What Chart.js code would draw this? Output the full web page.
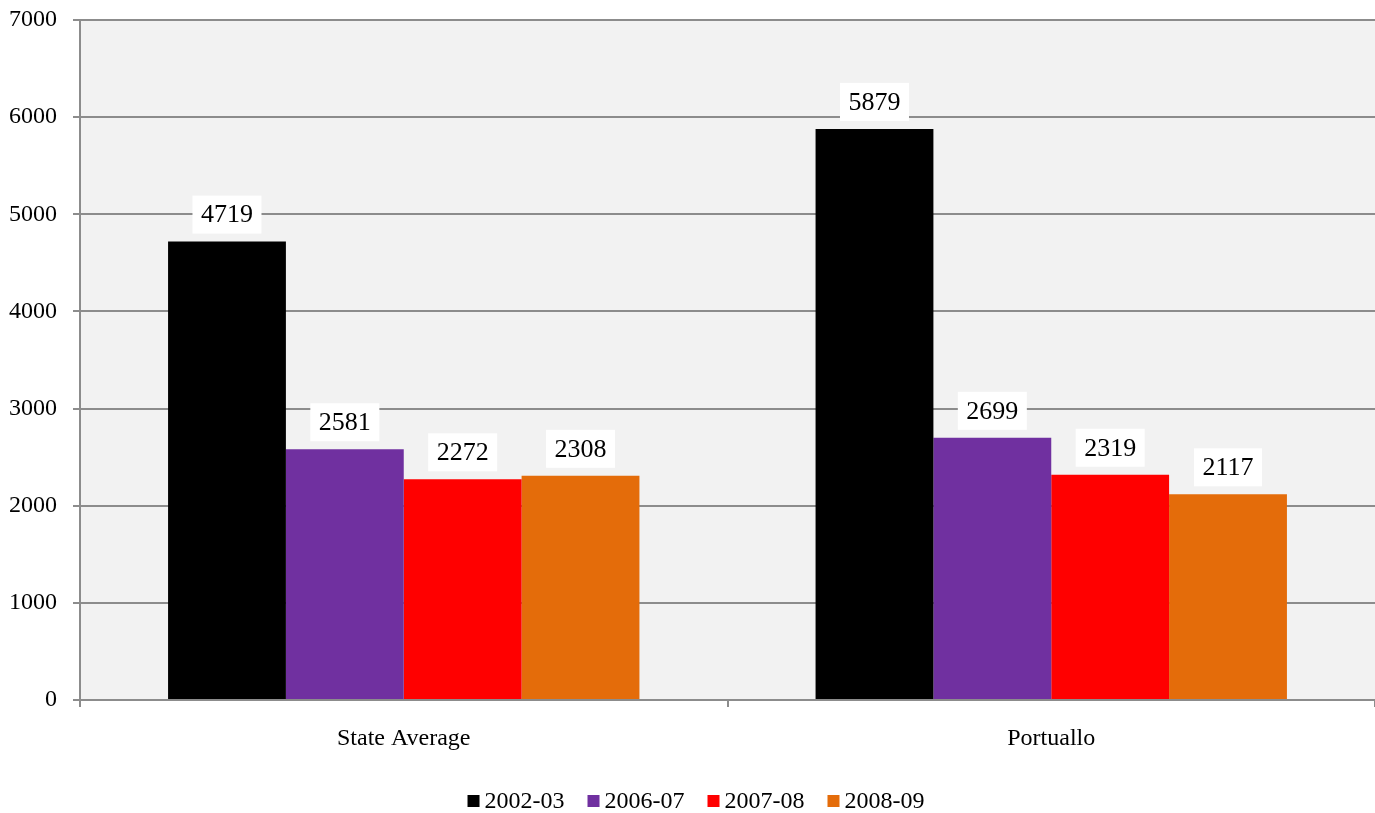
<!DOCTYPE html>
<html>
<head>
<meta charset="utf-8">
<script src="https://cdn.jsdelivr.net/npm/chart.js@4"></script>
<style>
  html, body { margin: 0; padding: 0; background: #ffffff; }
  #wrap { width: 1375px; height: 813px; }
</style>
</head>
<body>
<div id="wrap"><canvas id="c" width="1375" height="813"></canvas></div>
<script>
const categories = ['State Average', 'Portuallo'];
const seriesNames = ['2002-03', '2006-07', '2007-08', '2008-09'];
const seriesColors = ['#000000', '#7030A0', '#FF0000', '#E46C0A'];
const values2002 = [4719, 5879];
const values2006 = [2581, 2699];
const values2007 = [2272, 2319];
const values2008 = [2308, 2117];
const yTicks = [0, 1000, 2000, 3000, 4000, 5000, 6000, 7000];

const seriesValues = [values2002, values2006, values2007, values2008];
const FONT = '"Liberation Serif", "Times New Roman", serif';
const GRID = '#8c8c8c';

// grey plot background
const plotBg = {
  id: 'plotBg',
  beforeDraw(chart) {
    const { ctx, chartArea: a } = chart;
    ctx.save();
    ctx.fillStyle = '#F2F2F2';
    ctx.fillRect(a.left, a.top, a.right - a.left, a.bottom - a.top);
    ctx.restore();
  }
};

// value labels in white boxes above each bar
const valueBoxes = {
  id: 'valueBoxes',
  afterDatasetsDraw(chart) {
    const { ctx } = chart;
    ctx.save();
    ctx.font = '26px ' + FONT;
    ctx.textAlign = 'center';
    ctx.textBaseline = 'middle';
    chart.data.datasets.forEach((ds, di) => {
      chart.getDatasetMeta(di).data.forEach((bar, i) => {
        const txt = String(ds.data[i]);
        const w = ctx.measureText(txt).width + 17;
        const h = 38;
        const cy = bar.y - 27;
        ctx.fillStyle = '#ffffff';
        ctx.fillRect(bar.x - w / 2, cy - h / 2, w, h);
        ctx.fillStyle = '#000000';
        ctx.fillText(txt, bar.x, cy + 1);
      });
    });
    ctx.restore();
  }
};

// series key along the bottom edge
const bottomKey = {
  id: 'bottomKey',
  afterDraw(chart) {
    const { ctx } = chart;
    const box = 12, gapIn = 5, gapOut = 23, midX = 696, midY = 801;
    ctx.save();
    ctx.font = '24px ' + FONT;
    ctx.textBaseline = 'middle';
    ctx.textAlign = 'left';
    const widths = seriesNames.map(n => ctx.measureText(n).width);
    const total = widths.reduce((s, w) => s + box + gapIn + w, 0) + gapOut * (seriesNames.length - 1);
    let x = midX - total / 2;
    seriesNames.forEach((n, k) => {
      ctx.fillStyle = seriesColors[k];
      ctx.fillRect(x, midY - box / 2, box, box);
      ctx.fillStyle = '#000000';
      ctx.fillText(n, x + box + gapIn, midY + 1);
      x += box + gapIn + widths[k] + gapOut;
    });
    ctx.restore();
  }
};

new Chart(document.getElementById('c'), {
  type: 'bar',
  data: {
    labels: categories,
    datasets: seriesNames.map((name, k) => ({
      label: name,
      data: seriesValues[k],
      backgroundColor: seriesColors[k],
      borderWidth: 0,
      categoryPercentage: 0.728,
      barPercentage: 1.0
    }))
  },
  options: {
    responsive: false,
    animation: false,
    devicePixelRatio: 1,
    layout: { padding: { top: 20, right: 0, left: 0, bottom: 40 } },
    plugins: {
      tooltip: { enabled: false },
      legend: { display: false }
    },
    scales: {
      x: {
        grid: {
          offset: true,
          drawOnChartArea: false,
          drawTicks: true,
          tickLength: 7,
          color: GRID,
          lineWidth: 2
        },
        border: { color: GRID, width: 2 },
        ticks: {
          font: { family: FONT, size: 24 },
          color: '#000000',
          padding: 17
        },
        afterFit(scale) { scale.height = 73; }
      },
      y: {
        min: 0,
        max: 7000,
        afterBuildTicks(scale) { scale.ticks = yTicks.map(v => ({ value: v })); },
        grid: {
          color: GRID,
          lineWidth: 2,
          tickLength: 7,
          drawTicks: true
        },
        border: { color: GRID, width: 2 },
        ticks: {
          font: { family: FONT, size: 24 },
          color: '#000000',
          padding: 16,
          callback: v => String(v)
        },
        afterFit(scale) {
          scale.width = 80;
          scale.paddingTop = 0;
          scale.paddingBottom = 0;
        }
      }
    }
  },
  plugins: [plotBg, valueBoxes, bottomKey]
});
</script>
</body>
</html>
